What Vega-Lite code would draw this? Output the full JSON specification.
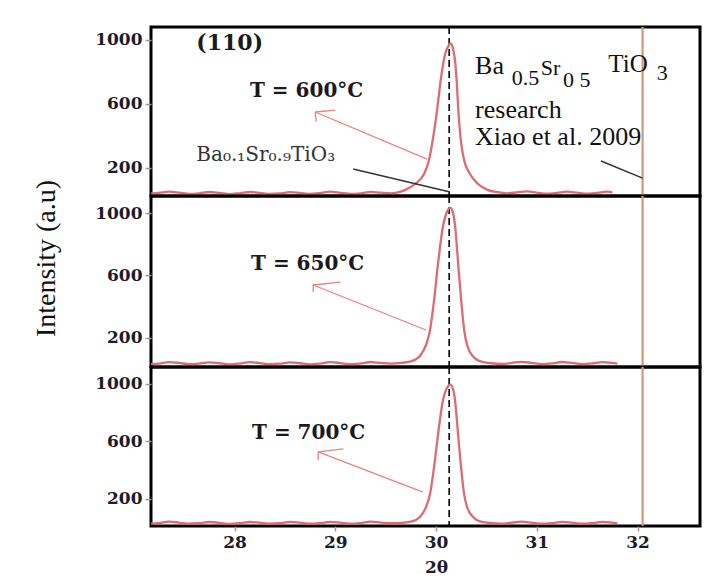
{
  "$schema": "https://vega.github.io/schema/vega-lite/v6.json",
  "background": "white",
  "padding": {"left": 30, "top": 24, "right": 5, "bottom": 5},
  "bounds": "flush",
  "spacing": 0,
  "config": {
    "view": {"stroke": "#000000", "strokeWidth": 3},
    "axis": {"labelFont": "DejaVu Serif", "labelFontWeight": "bold", "labelFontSize": 17, "labelColor": "#1c1c28", "tickColor": "#9a9a9a", "tickWidth": 1.5, "grid": false, "domain": false, "format": "d"}
  },
  "datasets": {
    "p600": [
      {"x": 27.17, "y": 40}, {"x": 27.25, "y": 44}, {"x": 27.35, "y": 52}, {"x": 27.45, "y": 46}, {"x": 27.55, "y": 38}, {"x": 27.65, "y": 42}, {"x": 27.75, "y": 50}, {"x": 27.85, "y": 44}, {"x": 27.95, "y": 37}, {"x": 28.05, "y": 42}, {"x": 28.15, "y": 50}, {"x": 28.25, "y": 45}, {"x": 28.35, "y": 38}, {"x": 28.45, "y": 41}, {"x": 28.55, "y": 49}, {"x": 28.65, "y": 44}, {"x": 28.75, "y": 38}, {"x": 28.85, "y": 43}, {"x": 28.95, "y": 52}, {"x": 29.05, "y": 45}, {"x": 29.15, "y": 38}, {"x": 29.25, "y": 42}, {"x": 29.35, "y": 51}, {"x": 29.45, "y": 46}, {"x": 29.55, "y": 42}, {"x": 29.62, "y": 48}, {"x": 29.69, "y": 62}, {"x": 29.79, "y": 100}, {"x": 29.88, "y": 162}, {"x": 29.93, "y": 250}, {"x": 29.96, "y": 350}, {"x": 30.01, "y": 562}, {"x": 30.05, "y": 768}, {"x": 30.09, "y": 912}, {"x": 30.12, "y": 960}, {"x": 30.145, "y": 978}, {"x": 30.17, "y": 940}, {"x": 30.19, "y": 860}, {"x": 30.205, "y": 740}, {"x": 30.22, "y": 570}, {"x": 30.248, "y": 360}, {"x": 30.278, "y": 250}, {"x": 30.337, "y": 162}, {"x": 30.417, "y": 100}, {"x": 30.516, "y": 62}, {"x": 30.6, "y": 50}, {"x": 30.7, "y": 42}, {"x": 30.8, "y": 47}, {"x": 30.9, "y": 54}, {"x": 31.0, "y": 46}, {"x": 31.1, "y": 39}, {"x": 31.2, "y": 44}, {"x": 31.3, "y": 52}, {"x": 31.4, "y": 46}, {"x": 31.5, "y": 39}, {"x": 31.6, "y": 45}, {"x": 31.7, "y": 52}, {"x": 31.75, "y": 48}
    ],
    "p650": [
      {"x": 27.17, "y": 33}, {"x": 27.25, "y": 36}, {"x": 27.35, "y": 45}, {"x": 27.45, "y": 40}, {"x": 27.55, "y": 32}, {"x": 27.65, "y": 36}, {"x": 27.75, "y": 44}, {"x": 27.85, "y": 38}, {"x": 27.95, "y": 31}, {"x": 28.05, "y": 36}, {"x": 28.15, "y": 45}, {"x": 28.25, "y": 39}, {"x": 28.35, "y": 32}, {"x": 28.45, "y": 35}, {"x": 28.55, "y": 44}, {"x": 28.65, "y": 38}, {"x": 28.75, "y": 31}, {"x": 28.85, "y": 36}, {"x": 28.95, "y": 45}, {"x": 29.05, "y": 39}, {"x": 29.15, "y": 32}, {"x": 29.25, "y": 37}, {"x": 29.35, "y": 46}, {"x": 29.45, "y": 40}, {"x": 29.55, "y": 36}, {"x": 29.65, "y": 40}, {"x": 29.75, "y": 50}, {"x": 29.84, "y": 85}, {"x": 29.9, "y": 155}, {"x": 29.94, "y": 250}, {"x": 29.98, "y": 440}, {"x": 30.02, "y": 680}, {"x": 30.07, "y": 920}, {"x": 30.11, "y": 1010}, {"x": 30.14, "y": 1035}, {"x": 30.17, "y": 995}, {"x": 30.19, "y": 910}, {"x": 30.22, "y": 670}, {"x": 30.25, "y": 435}, {"x": 30.28, "y": 245}, {"x": 30.31, "y": 150}, {"x": 30.37, "y": 80}, {"x": 30.45, "y": 48}, {"x": 30.55, "y": 38}, {"x": 30.65, "y": 34}, {"x": 30.75, "y": 40}, {"x": 30.85, "y": 47}, {"x": 30.95, "y": 40}, {"x": 31.05, "y": 33}, {"x": 31.15, "y": 37}, {"x": 31.25, "y": 46}, {"x": 31.35, "y": 40}, {"x": 31.45, "y": 33}, {"x": 31.55, "y": 37}, {"x": 31.65, "y": 45}, {"x": 31.75, "y": 40}, {"x": 31.8, "y": 36}
    ],
    "p700": [
      {"x": 27.17, "y": 28}, {"x": 27.25, "y": 32}, {"x": 27.35, "y": 42}, {"x": 27.45, "y": 36}, {"x": 27.55, "y": 28}, {"x": 27.65, "y": 31}, {"x": 27.75, "y": 40}, {"x": 27.85, "y": 34}, {"x": 27.95, "y": 27}, {"x": 28.05, "y": 31}, {"x": 28.15, "y": 40}, {"x": 28.25, "y": 35}, {"x": 28.35, "y": 28}, {"x": 28.45, "y": 31}, {"x": 28.55, "y": 41}, {"x": 28.65, "y": 35}, {"x": 28.75, "y": 28}, {"x": 28.85, "y": 32}, {"x": 28.95, "y": 41}, {"x": 29.05, "y": 35}, {"x": 29.15, "y": 28}, {"x": 29.25, "y": 32}, {"x": 29.35, "y": 42}, {"x": 29.45, "y": 36}, {"x": 29.55, "y": 31}, {"x": 29.65, "y": 33}, {"x": 29.75, "y": 42}, {"x": 29.84, "y": 75}, {"x": 29.9, "y": 144}, {"x": 29.94, "y": 235}, {"x": 29.98, "y": 422}, {"x": 30.02, "y": 652}, {"x": 30.069, "y": 888}, {"x": 30.11, "y": 975}, {"x": 30.14, "y": 995}, {"x": 30.17, "y": 960}, {"x": 30.188, "y": 888}, {"x": 30.218, "y": 652}, {"x": 30.248, "y": 422}, {"x": 30.278, "y": 235}, {"x": 30.308, "y": 144}, {"x": 30.367, "y": 75}, {"x": 30.446, "y": 42}, {"x": 30.55, "y": 32}, {"x": 30.65, "y": 29}, {"x": 30.75, "y": 35}, {"x": 30.85, "y": 42}, {"x": 30.95, "y": 35}, {"x": 31.05, "y": 28}, {"x": 31.15, "y": 32}, {"x": 31.25, "y": 41}, {"x": 31.35, "y": 35}, {"x": 31.45, "y": 28}, {"x": 31.55, "y": 32}, {"x": 31.65, "y": 41}, {"x": 31.75, "y": 35}, {"x": 31.8, "y": 31}
    ],
    "refs": [{"x": 30.13}],
    "brown": [{"x": 32.05}],
    "arrow1": [{"x": 29.91, "y": 256, "x2": 28.8, "y2": 550}, {"x": 28.8, "y": 550, "x2": 29.0, "y2": 562}, {"x": 28.8, "y": 550, "x2": 28.81, "y2": 490}],
    "arrow2": [{"x": 29.9, "y": 251, "x2": 28.78, "y2": 539}, {"x": 28.78, "y": 539, "x2": 29.05, "y2": 558}, {"x": 28.78, "y": 539, "x2": 28.78, "y2": 494}],
    "arrow3": [{"x": 29.87, "y": 248, "x2": 28.83, "y2": 527}, {"x": 28.83, "y": 527, "x2": 29.08, "y2": 548}, {"x": 28.83, "y": 527, "x2": 28.83, "y2": 471}],
    "leaders": [{"x": 29.177, "y": 194, "x2": 30.139, "y2": 50}, {"x": 31.637, "y": 244, "x2": 32.05, "y2": 137}],
    "bold1": [{"x": 27.62, "y": 937, "t": "(110)"}],
    "temp1": [{"x": 28.715, "y": 644, "t": "T = 600°C"}],
    "temp2": [{"x": 28.725, "y": 635, "t": "T = 650°C"}],
    "temp3": [{"x": 28.735, "y": 617, "t": "T = 700°C"}],
    "big28": [{"x": 30.387, "y": 787, "t": "Ba"}, {"x": 30.387, "y": 512, "t": "research"}, {"x": 30.387, "y": 344, "t": "Xiao et al. 2009"}],
    "big24": [{"x": 31.71, "y": 800, "t": "TiO"}],
    "big20": [{"x": 30.75, "y": 719, "t": "0.5"}, {"x": 31.04, "y": 781, "t": "Sr"}, {"x": 31.26, "y": 706, "t": "0 5"}, {"x": 32.19, "y": 750, "t": "3"}],
    "small": [{"x": 27.62, "y": 244, "t": "Ba₀.₁Sr₀.₉TiO₃"}]
  },
  "vconcat": [
    {
      "width": 549,
      "height": 169,
      "layer": [
        {"data": {"name": "refs"}, "mark": {"type": "rule", "color": "#000000", "strokeWidth": 1.6, "strokeDash": [7, 4]},
         "encoding": {"x": {"field": "x", "type": "quantitative", "scale": {"domain": [27.17, 32.62], "nice": false, "zero": false}, "axis": {"values": [28, 29, 30, 31, 32], "labels": false, "ticks": false, "title": null}}}},
        {"data": {"name": "brown"}, "mark": {"type": "rule", "color": "#cf9a78", "strokeWidth": 2.2},
         "encoding": {"x": {"field": "x", "type": "quantitative", "scale": {"domain": [27.17, 32.62], "nice": false, "zero": false}, "axis": {"values": [28, 29, 30, 31, 32], "labels": false, "ticks": false, "title": null}}}},
        {"data": {"name": "p600"}, "mark": {"type": "line", "color": "#dd6b6f", "strokeWidth": 2.3, "interpolate": "monotone", "clip": true},
         "encoding": {
           "x": {"field": "x", "type": "quantitative", "scale": {"domain": [27.17, 32.62], "nice": false, "zero": false}, "axis": {"values": [28, 29, 30, 31, 32], "labels": false, "ticks": false, "title": null}},
           "y": {"field": "y", "type": "quantitative", "scale": {"domain": [25, 1081], "nice": false, "zero": false}, "axis": {"values": [200, 600, 1000], "title": null, "tickSize": 6, "labelPadding": 3}}
         }},
        {"data": {"name": "arrow1"}, "mark": {"type": "rule", "color": "#ef8080", "strokeWidth": 1.3},
         "encoding": {
           "x": {"field": "x", "type": "quantitative", "scale": {"domain": [27.17, 32.62], "nice": false, "zero": false}, "axis": {"values": [28, 29, 30, 31, 32], "labels": false, "ticks": false, "title": null}},
           "y": {"field": "y", "type": "quantitative", "scale": {"domain": [25, 1081], "nice": false, "zero": false}, "axis": {"values": [200, 600, 1000], "title": null, "tickSize": 6, "labelPadding": 3}},
           "x2": {"field": "x2"}, "y2": {"field": "y2"}
         }},
        {"data": {"name": "leaders"}, "mark": {"type": "rule", "color": "#333333", "strokeWidth": 1.5},
         "encoding": {
           "x": {"field": "x", "type": "quantitative", "scale": {"domain": [27.17, 32.62], "nice": false, "zero": false}, "axis": {"values": [28, 29, 30, 31, 32], "labels": false, "ticks": false, "title": null}},
           "y": {"field": "y", "type": "quantitative", "scale": {"domain": [25, 1081], "nice": false, "zero": false}, "axis": {"values": [200, 600, 1000], "title": null, "tickSize": 6, "labelPadding": 3}},
           "x2": {"field": "x2"}, "y2": {"field": "y2"}
         }},
        {"data": {"name": "bold1"}, "mark": {"type": "text", "font": "DejaVu Serif", "fontWeight": "bold", "fontSize": 22, "align": "left", "baseline": "alphabetic", "color": "#1a1a1a"},
         "encoding": {
           "x": {"field": "x", "type": "quantitative", "scale": {"domain": [27.17, 32.62], "nice": false, "zero": false}, "axis": {"values": [28, 29, 30, 31, 32], "labels": false, "ticks": false, "title": null}},
           "y": {"field": "y", "type": "quantitative", "scale": {"domain": [25, 1081], "nice": false, "zero": false}, "axis": {"values": [200, 600, 1000], "title": null, "tickSize": 6, "labelPadding": 3}},
           "text": {"field": "t"}
         }},
        {"data": {"name": "temp1"}, "mark": {"type": "text", "font": "DejaVu Serif", "fontWeight": "bold", "fontSize": 20, "align": "center", "baseline": "alphabetic", "color": "#1a1a1a"},
         "encoding": {
           "x": {"field": "x", "type": "quantitative", "scale": {"domain": [27.17, 32.62], "nice": false, "zero": false}, "axis": {"values": [28, 29, 30, 31, 32], "labels": false, "ticks": false, "title": null}},
           "y": {"field": "y", "type": "quantitative", "scale": {"domain": [25, 1081], "nice": false, "zero": false}, "axis": {"values": [200, 600, 1000], "title": null, "tickSize": 6, "labelPadding": 3}},
           "text": {"field": "t"}
         }},
        {"data": {"name": "small"}, "mark": {"type": "text", "font": "DejaVu Serif", "fontSize": 20, "align": "left", "baseline": "alphabetic", "color": "#333333"},
         "encoding": {
           "x": {"field": "x", "type": "quantitative", "scale": {"domain": [27.17, 32.62], "nice": false, "zero": false}, "axis": {"values": [28, 29, 30, 31, 32], "labels": false, "ticks": false, "title": null}},
           "y": {"field": "y", "type": "quantitative", "scale": {"domain": [25, 1081], "nice": false, "zero": false}, "axis": {"values": [200, 600, 1000], "title": null, "tickSize": 6, "labelPadding": 3}},
           "text": {"field": "t"}
         }},
        {"data": {"name": "big28"}, "mark": {"type": "text", "font": "Liberation Serif", "fontSize": 26, "align": "left", "baseline": "alphabetic", "color": "#111111"},
         "encoding": {
           "x": {"field": "x", "type": "quantitative", "scale": {"domain": [27.17, 32.62], "nice": false, "zero": false}, "axis": {"values": [28, 29, 30, 31, 32], "labels": false, "ticks": false, "title": null}},
           "y": {"field": "y", "type": "quantitative", "scale": {"domain": [25, 1081], "nice": false, "zero": false}, "axis": {"values": [200, 600, 1000], "title": null, "tickSize": 6, "labelPadding": 3}},
           "text": {"field": "t"}
         }},
        {"data": {"name": "big24"}, "mark": {"type": "text", "font": "Liberation Serif", "fontSize": 25, "align": "left", "baseline": "alphabetic", "color": "#111111"},
         "encoding": {
           "x": {"field": "x", "type": "quantitative", "scale": {"domain": [27.17, 32.62], "nice": false, "zero": false}, "axis": {"values": [28, 29, 30, 31, 32], "labels": false, "ticks": false, "title": null}},
           "y": {"field": "y", "type": "quantitative", "scale": {"domain": [25, 1081], "nice": false, "zero": false}, "axis": {"values": [200, 600, 1000], "title": null, "tickSize": 6, "labelPadding": 3}},
           "text": {"field": "t"}
         }},
        {"data": {"name": "big20"}, "mark": {"type": "text", "font": "Liberation Serif", "fontSize": 22, "align": "left", "baseline": "alphabetic", "color": "#111111"},
         "encoding": {
           "x": {"field": "x", "type": "quantitative", "scale": {"domain": [27.17, 32.62], "nice": false, "zero": false}, "axis": {"values": [28, 29, 30, 31, 32], "labels": false, "ticks": false, "title": null}},
           "y": {"field": "y", "type": "quantitative", "scale": {"domain": [25, 1081], "nice": false, "zero": false}, "axis": {"values": [200, 600, 1000], "title": null, "tickSize": 6, "labelPadding": 3}},
           "text": {"field": "t"}
         }}
      ]
    },
    {
      "width": 549,
      "height": 171,
      "layer": [
        {"data": {"name": "refs"}, "mark": {"type": "rule", "color": "#000000", "strokeWidth": 1.6, "strokeDash": [7, 4]},
         "encoding": {"x": {"field": "x", "type": "quantitative", "scale": {"domain": [27.17, 32.62], "nice": false, "zero": false}, "axis": {"values": [28, 29, 30, 31, 32], "labels": false, "ticks": false, "title": null}}}},
        {"data": {"name": "brown"}, "mark": {"type": "rule", "color": "#cf9a78", "strokeWidth": 2.2},
         "encoding": {"x": {"field": "x", "type": "quantitative", "scale": {"domain": [27.17, 32.62], "nice": false, "zero": false}, "axis": {"values": [28, 29, 30, 31, 32], "labels": false, "ticks": false, "title": null}}}},
        {"data": {"name": "p650"}, "mark": {"type": "line", "color": "#dd6b6f", "strokeWidth": 2.3, "interpolate": "monotone", "clip": true},
         "encoding": {
           "x": {"field": "x", "type": "quantitative", "scale": {"domain": [27.17, 32.62], "nice": false, "zero": false}, "axis": {"values": [28, 29, 30, 31, 32], "labels": false, "ticks": false, "title": null}},
           "y": {"field": "y", "type": "quantitative", "scale": {"domain": [14, 1109], "nice": false, "zero": false}, "axis": {"values": [200, 600, 1000], "title": "Intensity (a.u)", "titleFont": "Liberation Serif", "titleFontSize": 28, "titleFontWeight": "normal", "titleColor": "#111111", "titleX": -91, "titleY": 62, "tickSize": 6, "labelPadding": 3}}
         }},
        {"data": {"name": "arrow2"}, "mark": {"type": "rule", "color": "#ef8080", "strokeWidth": 1.3},
         "encoding": {
           "x": {"field": "x", "type": "quantitative", "scale": {"domain": [27.17, 32.62], "nice": false, "zero": false}, "axis": {"values": [28, 29, 30, 31, 32], "labels": false, "ticks": false, "title": null}},
           "y": {"field": "y", "type": "quantitative", "scale": {"domain": [14, 1109], "nice": false, "zero": false}, "axis": {"values": [200, 600, 1000], "title": "Intensity (a.u)", "titleFont": "Liberation Serif", "titleFontSize": 28, "titleFontWeight": "normal", "titleColor": "#111111", "titleX": -91, "titleY": 62, "tickSize": 6, "labelPadding": 3}},
           "x2": {"field": "x2"}, "y2": {"field": "y2"}
         }},
        {"data": {"name": "temp2"}, "mark": {"type": "text", "font": "DejaVu Serif", "fontWeight": "bold", "fontSize": 20, "align": "center", "baseline": "alphabetic", "color": "#1a1a1a"},
         "encoding": {
           "x": {"field": "x", "type": "quantitative", "scale": {"domain": [27.17, 32.62], "nice": false, "zero": false}, "axis": {"values": [28, 29, 30, 31, 32], "labels": false, "ticks": false, "title": null}},
           "y": {"field": "y", "type": "quantitative", "scale": {"domain": [14, 1109], "nice": false, "zero": false}, "axis": {"values": [200, 600, 1000], "title": "Intensity (a.u)", "titleFont": "Liberation Serif", "titleFontSize": 28, "titleFontWeight": "normal", "titleColor": "#111111", "titleX": -91, "titleY": 62, "tickSize": 6, "labelPadding": 3}},
           "text": {"field": "t"}
         }}
      ]
    },
    {
      "width": 549,
      "height": 159,
      "layer": [
        {"data": {"name": "refs"}, "mark": {"type": "rule", "color": "#000000", "strokeWidth": 1.6, "strokeDash": [7, 4]},
         "encoding": {"x": {"field": "x", "type": "quantitative", "scale": {"domain": [27.17, 32.62], "nice": false, "zero": false}, "axis": {"values": [28, 29, 30, 31, 32], "title": "2θ", "titleFont": "DejaVu Serif", "titleFontWeight": "bold", "titleFontSize": 17, "titleColor": "#1c1c28", "titleX": 285, "tickSize": 5, "labelPadding": 3, "titlePadding": 9}}}},
        {"data": {"name": "brown"}, "mark": {"type": "rule", "color": "#cf9a78", "strokeWidth": 2.2},
         "encoding": {"x": {"field": "x", "type": "quantitative", "scale": {"domain": [27.17, 32.62], "nice": false, "zero": false}, "axis": {"values": [28, 29, 30, 31, 32], "title": "2θ", "titleFont": "DejaVu Serif", "titleFontWeight": "bold", "titleFontSize": 17, "titleColor": "#1c1c28", "titleX": 285, "tickSize": 5, "labelPadding": 3, "titlePadding": 9}}}},
        {"data": {"name": "p700"}, "mark": {"type": "line", "color": "#dd6b6f", "strokeWidth": 2.3, "interpolate": "monotone", "clip": true},
         "encoding": {
           "x": {"field": "x", "type": "quantitative", "scale": {"domain": [27.17, 32.62], "nice": false, "zero": false}, "axis": {"values": [28, 29, 30, 31, 32], "title": "2θ", "titleFont": "DejaVu Serif", "titleFontWeight": "bold", "titleFontSize": 17, "titleColor": "#1c1c28", "titleX": 285, "tickSize": 5, "labelPadding": 3, "titlePadding": 9}},
           "y": {"field": "y", "type": "quantitative", "scale": {"domain": [12, 1118], "nice": false, "zero": false}, "axis": {"values": [200, 600, 1000], "title": null, "tickSize": 6, "labelPadding": 3}}
         }},
        {"data": {"name": "arrow3"}, "mark": {"type": "rule", "color": "#ef8080", "strokeWidth": 1.3},
         "encoding": {
           "x": {"field": "x", "type": "quantitative", "scale": {"domain": [27.17, 32.62], "nice": false, "zero": false}, "axis": {"values": [28, 29, 30, 31, 32], "title": "2θ", "titleFont": "DejaVu Serif", "titleFontWeight": "bold", "titleFontSize": 17, "titleColor": "#1c1c28", "titleX": 285, "tickSize": 5, "labelPadding": 3, "titlePadding": 9}},
           "y": {"field": "y", "type": "quantitative", "scale": {"domain": [12, 1118], "nice": false, "zero": false}, "axis": {"values": [200, 600, 1000], "title": null, "tickSize": 6, "labelPadding": 3}},
           "x2": {"field": "x2"}, "y2": {"field": "y2"}
         }},
        {"data": {"name": "temp3"}, "mark": {"type": "text", "font": "DejaVu Serif", "fontWeight": "bold", "fontSize": 20, "align": "center", "baseline": "alphabetic", "color": "#1a1a1a"},
         "encoding": {
           "x": {"field": "x", "type": "quantitative", "scale": {"domain": [27.17, 32.62], "nice": false, "zero": false}, "axis": {"values": [28, 29, 30, 31, 32], "title": "2θ", "titleFont": "DejaVu Serif", "titleFontWeight": "bold", "titleFontSize": 17, "titleColor": "#1c1c28", "titleX": 285, "tickSize": 5, "labelPadding": 3, "titlePadding": 9}},
           "y": {"field": "y", "type": "quantitative", "scale": {"domain": [12, 1118], "nice": false, "zero": false}, "axis": {"values": [200, 600, 1000], "title": null, "tickSize": 6, "labelPadding": 3}},
           "text": {"field": "t"}
         }}
      ]
    }
  ]
}
